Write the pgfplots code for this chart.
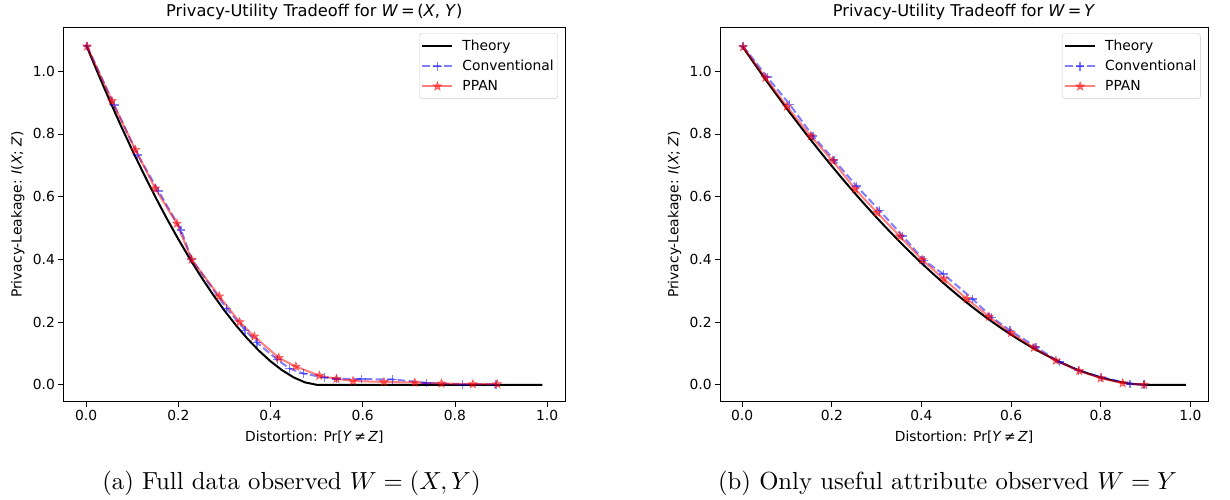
\documentclass[border=0pt]{standalone}
\usepackage{fontspec}
\usepackage{graphicx}
\usepackage{pgfplots}
\pgfplotsset{compat=1.18}
\newfontfamily\dejavu{DejaVu Sans}
\newcommand{\mplfont}{\dejavu\fontsize{13.9}{16}\selectfont}

% filled five-point star, like matplotlib's '*'
\pgfdeclareplotmark{fstar}{%
  \pgfpathmoveto{\pgfpointpolar{90}{\pgfplotmarksize}}%
  \pgfpathlineto{\pgfpointpolar{126}{0.42\pgfplotmarksize}}%
  \pgfpathlineto{\pgfpointpolar{162}{\pgfplotmarksize}}%
  \pgfpathlineto{\pgfpointpolar{198}{0.42\pgfplotmarksize}}%
  \pgfpathlineto{\pgfpointpolar{234}{\pgfplotmarksize}}%
  \pgfpathlineto{\pgfpointpolar{270}{0.42\pgfplotmarksize}}%
  \pgfpathlineto{\pgfpointpolar{306}{\pgfplotmarksize}}%
  \pgfpathlineto{\pgfpointpolar{342}{0.42\pgfplotmarksize}}%
  \pgfpathlineto{\pgfpointpolar{18}{\pgfplotmarksize}}%
  \pgfpathlineto{\pgfpointpolar{54}{0.42\pgfplotmarksize}}%
  \pgfpathclose\pgfusepathqfillstroke}

\pgfplotsset{
  mpl/.style={
    scale only axis, height=374.4bp,
    xmin=-0.0495, xmax=1.0395, ymin=-0.054, ymax=1.14,
    xtick={0,0.2,0.4,0.6,0.8,1}, ytick={0,0.2,0.4,0.6,0.8,1},
    xtick pos=bottom, ytick pos=left,
    tick align=outside, major tick length=4.9bp,
    tick style={line width=0.8bp, black},
    axis line style={line width=0.8bp},
    scaled ticks=false,
    /pgf/number format/assume math mode=true,
    /pgf/number format/.cd, fixed, fixed zerofill, precision=1, /pgfplots/.cd,
    tick label style={font=\mplfont},
    every axis x label/.style={at={(axis description cs:0.5,0)}, anchor=center,
      yshift=-35.5bp, font=\mplfont},
    every axis y label/.style={at={(axis description cs:0,0.5)}, xshift=-45.5bp,
      anchor=center, rotate=90, font=\mplfont},
    every axis title/.style={at={(axis description cs:0.5,1)}, anchor=center,
      yshift=15.5bp, font=\dejavu\fontsize{16.3}{19}\selectfont},
    xlabel={Distortion: Pr[\textit{Y}\,≠\,\textit{Z}]},
    ylabel={Privacy-Leakage: \textit{I}(\textit{X}; \textit{Z})},
    legend style={at={(1,1)}, anchor=north east, xshift=-7.4bp, yshift=-6bp,
      draw=black!20, rounded corners=2.5bp, fill=white, font=\mplfont,
      inner xsep=2bp, inner ysep=4.5bp, row sep=4.3bp, column sep=7bp},
    legend cell align=left,
    legend image code/.code={\draw[mark repeat=2, mark phase=2]
      plot coordinates {(0bp,0bp) (15bp,0bp) (30bp,0bp)};},
  },
  theory/.style={black, line width=2bp, no marks},
  conv/.style={blue, opacity=0.5, line width=2bp, dash pattern=on 7.7bp off 3.3bp,
    mark=+, mark size=4.3bp, mark options={solid, line width=1.4bp}},
  ppan/.style={red, opacity=0.5, line width=2bp, mark=fstar, mark size=4.6bp,
    mark options={solid, fill=red, line width=0.6bp}},
}

\begin{document}
\begin{tikzpicture}
\path[use as bounding box] (0,0) rectangle (1230bp,500bp);

\begin{axis}[mpl, at={(63.3bp,98.3bp)}, anchor=south west, width=502bp,
  title={Privacy-Utility Tradeoff for \textit{W}\,=\,(\textit{X}, \textit{Y})}]
\addplot[theory] coordinates {
  (0,1.084) (0.025,0.9955) (0.05,0.910) (0.075,0.8276) (0.1,0.7484)
  (0.125,0.6724) (0.15,0.5997) (0.175,0.5302) (0.2,0.4643) (0.225,0.4018)
  (0.25,0.3430) (0.275,0.2880) (0.3,0.2369) (0.325,0.1897) (0.35,0.1469)
  (0.375,0.1086) (0.4,0.0749) (0.425,0.0465) (0.45,0.0237) (0.475,0.0075)
  (0.5,0) (0.99,0)};
\addlegendentry{Theory}
\addplot[conv] coordinates {
  (0.002,1.080) (0.061,0.892) (0.112,0.733) (0.157,0.618) (0.206,0.493)
  (0.229,0.400) (0.305,0.243) (0.345,0.174) (0.371,0.134) (0.415,0.080)
  (0.441,0.052) (0.471,0.036) (0.517,0.023) (0.543,0.019) (0.597,0.018)
  (0.665,0.017) (0.738,0.006) (0.817,0.001) (0.889,0.001)};
\addlegendentry{Conventional}
\addplot[ppan] coordinates {
  (0.002,1.079) (0.056,0.905) (0.107,0.749) (0.150,0.626) (0.197,0.514)
  (0.229,0.399) (0.289,0.282) (0.333,0.200) (0.365,0.154) (0.418,0.086)
  (0.455,0.058) (0.506,0.029) (0.543,0.019) (0.579,0.012) (0.646,0.009)
  (0.713,0.007) (0.771,0.004) (0.839,0.002) (0.892,0.002)};
\addlegendentry{PPAN}
\end{axis}

\begin{axis}[mpl, at={(720bp,98.3bp)}, anchor=south west, width=488bp,
  title={Privacy-Utility Tradeoff for \textit{W}\,=\,\textit{Y}}]
\addplot[theory, smooth, tension=0.5] coordinates {
  (0,1.08) (0.05,0.9777) (0.1,0.8799) (0.15,0.7865) (0.2,0.6975)
  (0.25,0.6131) (0.3,0.5333) (0.35,0.4585) (0.4,0.3883) (0.45,0.3233)
  (0.5,0.2634) (0.55,0.2088) (0.6,0.1597) (0.65,0.1163) (0.7,0.0789)
  (0.75,0.0470) (0.8,0.0236) (0.85,0.0071) (0.9,0) (0.99,0)};
\addlegendentry{Theory}
\addplot[conv] coordinates {
  (0.002,1.080) (0.056,0.981) (0.106,0.894) (0.158,0.793) (0.205,0.717)
  (0.255,0.634) (0.307,0.555) (0.358,0.475) (0.406,0.396) (0.449,0.353)
  (0.514,0.274) (0.557,0.215) (0.598,0.173) (0.656,0.120) (0.708,0.072)
  (0.750,0.046) (0.802,0.024) (0.865,0.003) (0.897,0)};
\addlegendentry{Conventional}
\addplot[ppan] coordinates {
  (0.002,1.077) (0.052,0.979) (0.100,0.887) (0.153,0.793) (0.202,0.714)
  (0.252,0.624) (0.301,0.549) (0.352,0.473) (0.402,0.398) (0.450,0.337)
  (0.501,0.274) (0.551,0.217) (0.600,0.165) (0.651,0.118) (0.700,0.077)
  (0.752,0.044) (0.800,0.021) (0.849,0.005) (0.897,0)};
\addlegendentry{PPAN}
\end{axis}

\node[anchor=center] at (291.5bp,17bp)
  {\scalebox{2.48}{(a) Full data observed $W=(X,Y)$}};
\node[anchor=center] at (947.5bp,17bp)
  {\scalebox{2.48}{(b) Only useful attribute observed $W=Y$}};
\end{tikzpicture}
\end{document}
